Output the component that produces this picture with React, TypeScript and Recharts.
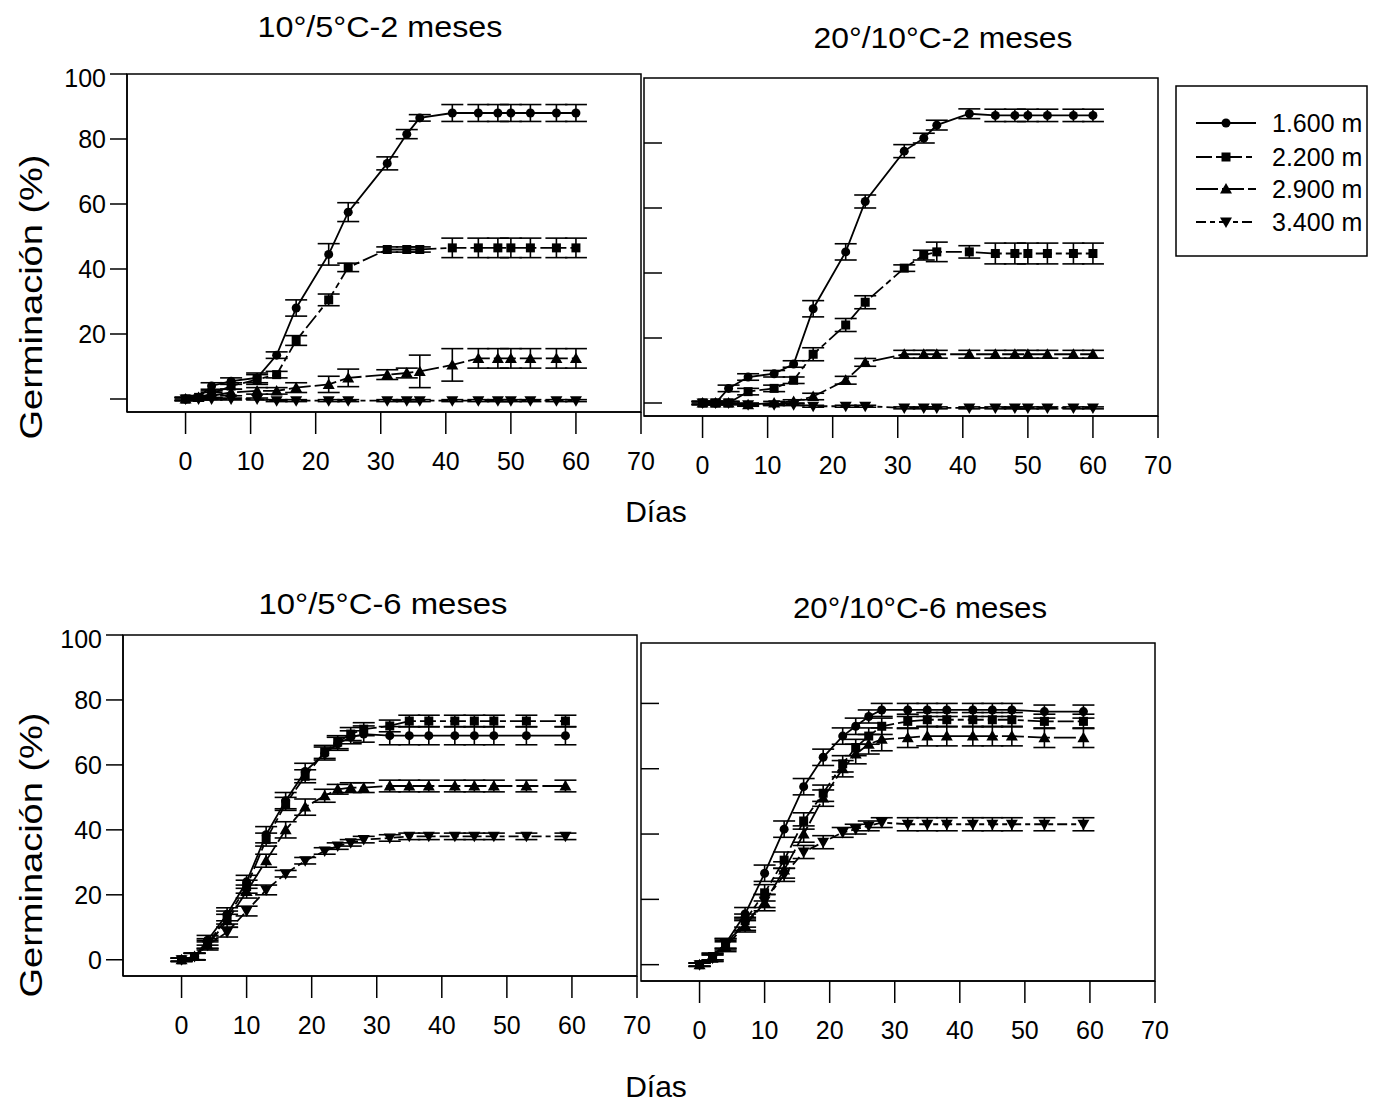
import React from 'react'
import { LineChart, Line, XAxis, YAxis, ErrorBar, ReferenceArea } from 'recharts'

const DAYS_2M = [0, 2, 4, 7, 11, 14, 17, 22, 25, 31, 34, 36, 41, 45, 48, 50, 53, 57, 60]
const DAYS_6M = [0, 2, 4, 7, 10, 13, 16, 19, 22, 24, 26, 28, 32, 35, 38, 42, 45, 48, 53, 59]

const X_TICKS = [0, 10, 20, 30, 40, 50, 60, 70]
const Y_TICKS = [0, 20, 40, 60, 80, 100]

const SERIES_NAMES = ['1.600 m', '2.200 m', '2.900 m', '3.400 m']

// 10°/5°C - 2 meses
const A_1600 = [0, 0.5, 4, 5.5, 6.5, 13.5, 28, 44.5, 57.5, 72.5, 81.5, 86.5, 88, 88, 88, 88, 88, 88, 88]
const A_1600_ERR = [0.5, 0.5, 1, 1, 1.5, 1, 2.5, 3.3, 2.9, 2, 1.4, 1, 2.6, 2.6, 2.6, 2.6, 2.6, 2.6, 2.6]
const A_2200 = [0, 0.5, 1.5, 4, 6, 7.5, 18, 30.5, 40.5, 46, 46, 46, 46.5, 46.5, 46.5, 46.5, 46.5, 46.5, 46.5]
const A_2200_ERR = [0.5, 0.5, 1, 1, 1.5, 1, 1.5, 1.8, 1.3, 0.8, 0.8, 0.8, 3, 3, 3, 3, 3, 3, 3]
const A_2900 = [0, 0.5, 1, 2, 2.5, 2.5, 3.5, 4.5, 6.5, 7.5, 8, 8.5, 10.5, 12.5, 12.5, 12.5, 12.5, 12.5, 12.5]
const A_2900_ERR = [0.5, 0.5, 1, 1, 1, 1, 1.5, 2.5, 2.7, 1.5, 1.5, 5, 5, 3, 3, 3, 3, 3, 3]
const A_3400 = [0, 0, 0, 0, 0, -0.5, -0.5, -0.5, -0.5, -0.5, -0.5, -0.5, -0.5, -0.5, -0.5, -0.5, -0.5, -0.5, -0.5]
const A_3400_ERR = [0.3, 0.3, 0.3, 0.3, 0.3, 0.3, 0.3, 0.3, 0.3, 0.3, 0.3, 0.3, 0.3, 0.3, 0.3, 0.3, 0.3, 0.3, 0.3]

// 20°/10°C - 2 meses
const B_1600 = [0, 0, 4.5, 8, 9, 12, 29, 46.5, 62, 77.5, 81.5, 85.5, 89, 88.5, 88.5, 88.5, 88.5, 88.5, 88.5]
const B_1600_ERR = [0.5, 0.5, 1, 1, 1, 1, 2.5, 2.5, 2, 2, 1.5, 1.5, 1.5, 1.9, 1.9, 1.9, 1.9, 1.9, 1.9]
const B_2200 = [0, 0, 0, 3.5, 4.5, 7, 15, 24, 31, 41.5, 45.5, 46.5, 46.5, 46, 46, 46, 46, 46, 46]
const B_2200_ERR = [0.5, 0.5, 0.5, 1, 1, 1, 2, 2, 2, 1, 1.5, 3, 1.9, 3.2, 3.2, 3.2, 3.2, 3.2, 3.2]
const B_2900 = [0, 0, 0, -0.5, 0, 0.5, 2, 7, 12.5, 15, 15, 15, 15, 15, 15, 15, 15, 15, 15]
const B_2900_ERR = [0.5, 0.5, 0.5, 0.5, 0.5, 0.5, 1, 1.2, 1.2, 1.2, 1.2, 1.2, 1.2, 1.2, 1.2, 1.2, 1.2, 1.2, 1.2]
const B_3400 = [0, 0, 0, -0.5, -0.5, -0.5, -1, -1, -1, -1.5, -1.5, -1.5, -1.5, -1.5, -1.5, -1.5, -1.5, -1.5, -1.5]
const B_3400_ERR = [0.3, 0.3, 0.3, 0.3, 0.3, 0.3, 0.3, 0.3, 0.3, 0.3, 0.3, 0.3, 0.3, 0.3, 0.3, 0.3, 0.3, 0.3, 0.3]

// 10°/5°C - 6 meses
const C_1600 = [0, 1, 6, 14, 24, 38.5, 49, 58, 63.5, 66.5, 68.5, 69.5, 69, 69, 69, 69, 69, 69, 69, 69]
const C_1600_ERR = [0.5, 1, 1.5, 2, 2, 2.5, 2.5, 2.5, 2, 2, 2, 2.5, 2.8, 2.8, 2.8, 2.8, 2.8, 2.8, 2.8, 2.8]
const C_2200 = [0, 1, 5, 13, 22.5, 37, 48, 56.5, 64, 67, 69.5, 71, 72, 73.5, 73.5, 73.5, 73.5, 73.5, 73.5, 73.5]
const C_2200_ERR = [0.5, 1, 1.5, 2, 2, 2, 2, 2, 2, 2, 2, 2, 1.8, 1.8, 1.8, 1.8, 1.8, 1.8, 1.8, 1.8]
const C_2900 = [0, 1, 4.5, 12, 21, 30.5, 40, 47, 50.5, 52.5, 53, 53, 53.5, 53.5, 53.5, 53.5, 53.5, 53.5, 53.5, 53.5]
const C_2900_ERR = [0.5, 1, 1.5, 2, 2, 2, 2.5, 2.5, 2, 1.5, 1.5, 1.5, 1.8, 1.8, 1.8, 1.8, 1.8, 1.8, 1.8, 1.8]
const C_3400 = [0, 1, 4.5, 8.5, 15, 21.5, 26.5, 30.5, 33.5, 35, 36, 37, 37.5, 38, 38, 38, 38, 38, 38, 38]
const C_3400_ERR = [0.5, 1, 1, 1.5, 1.5, 1.5, 1, 1, 1, 1, 1, 1, 1, 1, 1, 1, 1, 1, 1, 1]

// 20°/10°C - 6 meses
const D_1600 = [0, 2.5, 6.5, 15.5, 28, 41.5, 54.5, 63.5, 70, 73, 76, 78, 78, 78, 78, 78, 78, 78, 77.5, 77.5]
const D_1600_ERR = [0.5, 1, 1.5, 2, 2.5, 2.5, 2.5, 2.5, 2.5, 2.5, 2, 2, 2, 2, 2, 2, 2, 2, 2, 2]
const D_2200 = [0, 2.5, 6, 13.5, 22, 32, 44, 52.5, 61.5, 66.5, 70, 73, 74.5, 75, 75, 75, 75, 75, 74.5, 74.5]
const D_2200_ERR = [0.5, 1, 1.5, 2, 2.5, 2.5, 2.5, 2.5, 2.5, 2.5, 2.5, 2.5, 2.2, 2.2, 2.2, 2.2, 2.2, 2.2, 2.2, 2.2]
const D_2900 = [0, 2, 5.5, 12, 19, 29, 40, 51, 60, 64.5, 67.5, 69, 69.5, 70, 70, 70, 70, 70, 69.5, 69.5]
const D_2900_ERR = [0.5, 1, 1.5, 2, 2.5, 2.5, 2.5, 2.5, 2.5, 3, 3, 3.5, 3, 3, 3, 3, 3, 3, 3, 3]
const D_3400 = [0, 2, 6.5, 12.5, 19.5, 27.5, 34.5, 37.5, 40.5, 41.5, 42.5, 43.5, 43, 43, 43, 43, 43, 43, 43, 43]
const D_3400_ERR = [0.5, 1, 1.5, 2, 2, 2, 2, 2, 1.5, 1.5, 1.5, 1.5, 2, 2, 2, 2, 2, 2, 2, 2]

const FONT = '"Liberation Sans", Arial, sans-serif'
const SHAPES = ['circle', 'square', 'up', 'down']
const DASHES = [undefined, '16 4 6 4', '22 4', '10 4 5 4']

function buildRows(days: number[], vals: number[][], errs: number[][]) {
  return days.map((day, i) => {
    const row: Record<string, number> = { day }
    vals.forEach((v, k) => {
      row[`v${k}`] = v[i]
      row[`e${k}`] = errs[k][i]
    })
    return row
  })
}

function Marker({ cx, cy, shape }: { cx?: number; cy?: number; shape: string }) {
  if (cx == null || cy == null) return null
  if (shape === 'circle') return <circle cx={cx} cy={cy} r={4.5} fill="#000" />
  if (shape === 'square') return <rect x={cx - 4.5} y={cy - 4.5} width={9} height={9} fill="#000" />
  if (shape === 'up')
    return <path d={`M${cx},${cy - 6} L${cx + 6},${cy + 4.5} L${cx - 6},${cy + 4.5} Z`} fill="#000" />
  return <path d={`M${cx},${cy + 6} L${cx + 6},${cy - 4.5} L${cx - 6},${cy - 4.5} Z`} fill="#000" />
}

interface PanelProps {
  left: number
  top: number
  plotW: number
  plotH: number
  yDomain: [number, number]
  rows: Record<string, number>[]
  outer: boolean
  showZero: boolean
}

const YW = 70
const MT = 10
const MR = 20
const XH = 80

const noLabel = () => <g />

function Panel({ left, top, plotW, plotH, yDomain, rows, outer, showZero }: PanelProps) {
  return (
    <div style={{ position: 'absolute', left: left - YW, top: top - MT }}>
      <LineChart
        width={YW + plotW + MR}
        height={MT + plotH + XH}
        data={rows}
        margin={{ top: MT, right: MR, left: outer ? 0 : YW, bottom: 0 }}
      >
        <XAxis
          dataKey="day"
          type="number"
          domain={[-9, 70]}
          ticks={X_TICKS}
          allowDataOverflow
          height={XH}
          stroke="#000"
          strokeWidth={1.5}
          tickSize={22}
          tickMargin={18}
          tick={{ fill: '#000', fontSize: 25, fontFamily: FONT }}
        />
        {outer ? (
          <YAxis
            type="number"
            domain={yDomain}
            ticks={Y_TICKS}
            allowDataOverflow
            width={YW}
            stroke="#000"
            strokeWidth={1.5}
            tickSize={17}
            tickMargin={4}
            tickFormatter={(v: number) => (v === 0 && !showZero ? '' : String(v))}
            tick={{ fill: '#000', fontSize: 25, fontFamily: FONT }}
          />
        ) : (
          <YAxis
            type="number"
            domain={yDomain}
            ticks={Y_TICKS.filter((t) => t < 100)}
            allowDataOverflow
            mirror
            width={30}
            stroke="#000"
            strokeWidth={1.5}
            axisLine={false}
            tickLine={{ stroke: '#000', strokeWidth: 1.5 }}
            tickSize={18}
            tick={noLabel}
          />
        )}
        <ReferenceArea
          x1={-9}
          x2={70}
          y1={yDomain[0]}
          y2={yDomain[1]}
          fill="none"
          fillOpacity={0}
          stroke="#000"
          strokeWidth={1.5}
        />
        {SHAPES.map((shape, k) => (
          <Line
            key={shape}
            dataKey={`v${k}`}
            type="linear"
            stroke="#000"
            strokeWidth={1.8}
            strokeDasharray={DASHES[k]}
            isAnimationActive={false}
            dot={(p: any) => <Marker key={`${shape}-${p.index}`} cx={p.cx} cy={p.cy} shape={shape} />}
            activeDot={false}
          >
            <ErrorBar dataKey={`e${k}`} width={11} stroke="#000" strokeWidth={1.6} direction="y" />
          </Line>
        ))}
      </LineChart>
    </div>
  )
}

function LegendBox() {
  const rowsY = [123, 157, 189, 222]
  return (
    <g>
      <rect x={1176} y={86} width={191} height={170} fill="#fff" stroke="#000" strokeWidth={1.5} />
      {SERIES_NAMES.map((name, k) => (
        <g key={name}>
          <line x1={1196} x2={1256} y1={rowsY[k]} y2={rowsY[k]} stroke="#000" strokeWidth={1.8} strokeDasharray={DASHES[k]} />
          <Marker cx={1226} cy={rowsY[k]} shape={SHAPES[k]} />
          <text x={1272} y={rowsY[k] + 9} fontSize={25} fontFamily={FONT} fill="#000">
            {name}
          </text>
        </g>
      ))}
    </g>
  )
}

const rowsA = buildRows(DAYS_2M, [A_1600, A_2200, A_2900, A_3400], [A_1600_ERR, A_2200_ERR, A_2900_ERR, A_3400_ERR])
const rowsB = buildRows(DAYS_2M, [B_1600, B_2200, B_2900, B_3400], [B_1600_ERR, B_2200_ERR, B_2900_ERR, B_3400_ERR])
const rowsC = buildRows(DAYS_6M, [C_1600, C_2200, C_2900, C_3400], [C_1600_ERR, C_2200_ERR, C_2900_ERR, C_3400_ERR])
const rowsD = buildRows(DAYS_6M, [D_1600, D_2200, D_2900, D_3400], [D_1600_ERR, D_2200_ERR, D_2900_ERR, D_3400_ERR])

export default function App() {
  return (
    <div style={{ position: 'absolute', left: 0, top: 0, width: 1377, height: 1105, background: '#fff', fontFamily: FONT }}>
      <Panel left={127} top={74} plotW={514} plotH={338} yDomain={[-4, 100]} rows={rowsA} outer showZero={false} />
      <Panel left={644} top={78} plotW={514} plotH={338} yDomain={[-4, 100]} rows={rowsB} outer={false} showZero={false} />
      <Panel left={123} top={635} plotW={514} plotH={341} yDomain={[-5, 100]} rows={rowsC} outer showZero />
      <Panel left={641} top={643} plotW={514} plotH={338} yDomain={[-5, 98.5]} rows={rowsD} outer={false} showZero />
      <svg width={1377} height={1105} style={{ position: 'absolute', left: 0, top: 0, pointerEvents: 'none' }}>
        <g fontFamily={FONT} fill="#000">
          <text x={380} y={37} fontSize={30} textAnchor="middle" textLength={245} lengthAdjust="spacingAndGlyphs">10°/5°C-2 meses</text>
          <text x={943} y={48} fontSize={30} textAnchor="middle" textLength={259} lengthAdjust="spacingAndGlyphs">20°/10°C-2 meses</text>
          <text x={383} y={614} fontSize={30} textAnchor="middle" textLength={249} lengthAdjust="spacingAndGlyphs">10°/5°C-6 meses</text>
          <text x={920} y={618} fontSize={30} textAnchor="middle" textLength={254} lengthAdjust="spacingAndGlyphs">20°/10°C-6 meses</text>
          <text x={656} y={522} fontSize={30} textAnchor="middle">Días</text>
          <text x={656} y={1097} fontSize={30} textAnchor="middle">Días</text>
          <text transform="translate(42,297) rotate(-90)" fontSize={31} textAnchor="middle" textLength={285} lengthAdjust="spacingAndGlyphs">Germinación (%)</text>
          <text transform="translate(42,855) rotate(-90)" fontSize={31} textAnchor="middle" textLength={285} lengthAdjust="spacingAndGlyphs">Germinación (%)</text>
        </g>
        <LegendBox />
      </svg>
    </div>
  )
}
